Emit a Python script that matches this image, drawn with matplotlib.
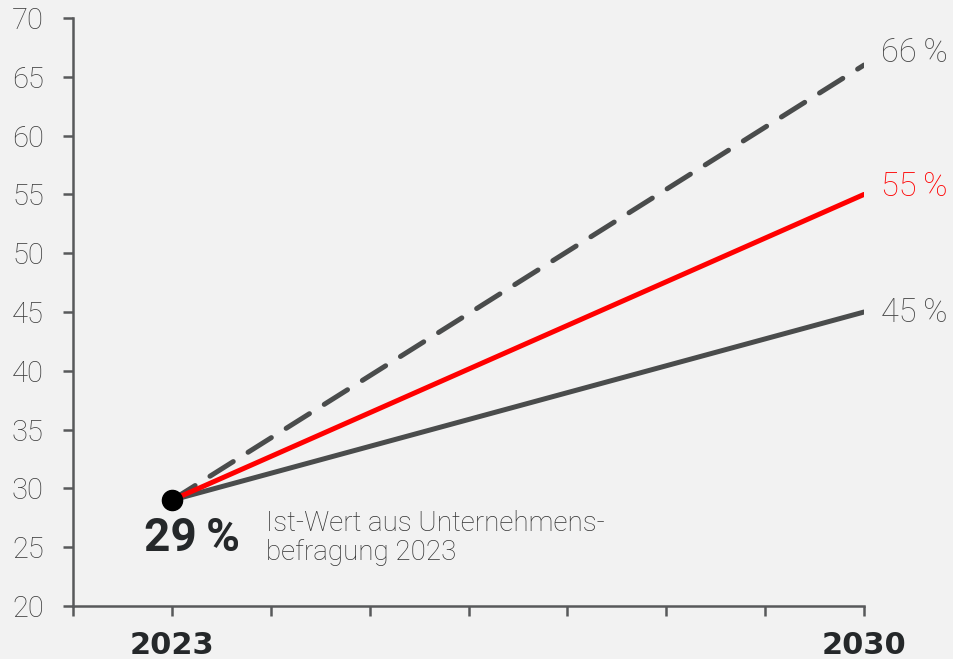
import matplotlib.pyplot as plt

# data
start_year = 2023
end_year = 2030
start_value = 29
scenarios = ['high', 'mid', 'low']
end_values = [66, 55, 45]
year_ticks = list(range(2022, 2031))
year_labels = ['', '2023', '', '', '', '', '', '', '2030']
y_ticks = list(range(20, 71, 5))

bg = '#f2f2f2'
grey = '#4a4c4c'
axis_grey = '#58595b'
red = '#ff0000'

plt.rcParams['font.family'] = ['Roboto', 'DejaVu Sans']

fig = plt.figure(figsize=(9.54, 6.59), dpi=100, facecolor=bg)
ax = fig.add_axes([0.0765, 0.0804, 0.8292, 0.8923], facecolor=bg)

# dashed high scenario
ax.plot([start_year, end_year], [start_value, end_values[0]], color=grey,
        lw=3.6, dashes=(5.5, 3.5), dash_capstyle='round', zorder=2)
# low scenario
ax.plot([start_year, end_year], [start_value, end_values[2]], color=grey,
        lw=3.6, solid_capstyle='round', zorder=3)
# mid scenario
ax.plot([start_year, end_year], [start_value, end_values[1]], color=red,
        lw=3.6, solid_capstyle='round', zorder=4)
ax.plot([start_year], [start_value], 'o', color='black', ms=14.5, zorder=5)

# end labels (sit a bit above the line ends)
label_colors = ['#4a4a4a', red, '#4a4a4a']
label_dy = [9, 5.5, -1]
for v, c, dy in zip(end_values, label_colors, label_dy):
    ax.annotate(f'{v}\u2009%', xy=(end_year, v), xytext=(12, dy),
                textcoords='offset points', va='center', ha='left',
                fontsize=23.5, color=c, fontweight='light', annotation_clip=False)

ax.annotate(f'{start_value}\u2009%', xy=(start_year, start_value), xytext=(-20, -27),
            textcoords='offset points', va='center', ha='left',
            fontsize=33, fontweight='bold', color='#25282a')
ax.annotate('Ist-Wert aus Unternehmens-\nbefragung 2023', xy=(start_year, start_value),
            xytext=(68, -27), textcoords='offset points', va='center', ha='left',
            fontsize=20, color='#333333', fontweight='light', linespacing=1.1)

ax.set_xlim(2022, 2030)
ax.set_ylim(20, 70)
ax.set_xticks(year_ticks)
ax.set_xticklabels(year_labels, fontsize=22, fontweight='bold', color='#25282a',
                   family=['DejaVu Sans'])
ax.set_yticks(y_ticks)
ax.set_yticklabels([str(t) for t in y_ticks], fontsize=21, color='#3c3c3c',
                   fontweight='light')

for side in ['top', 'right']:
    ax.spines[side].set_visible(False)
for side in ['left', 'bottom']:
    ax.spines[side].set_color(axis_grey)
    ax.spines[side].set_linewidth(1.8)
ax.tick_params(axis='both', direction='out', length=7, width=1.8, color=axis_grey)
ax.tick_params(axis='y', pad=14)
ax.tick_params(axis='x', pad=11)

plt.savefig('out.png', dpi=100, facecolor=bg)
